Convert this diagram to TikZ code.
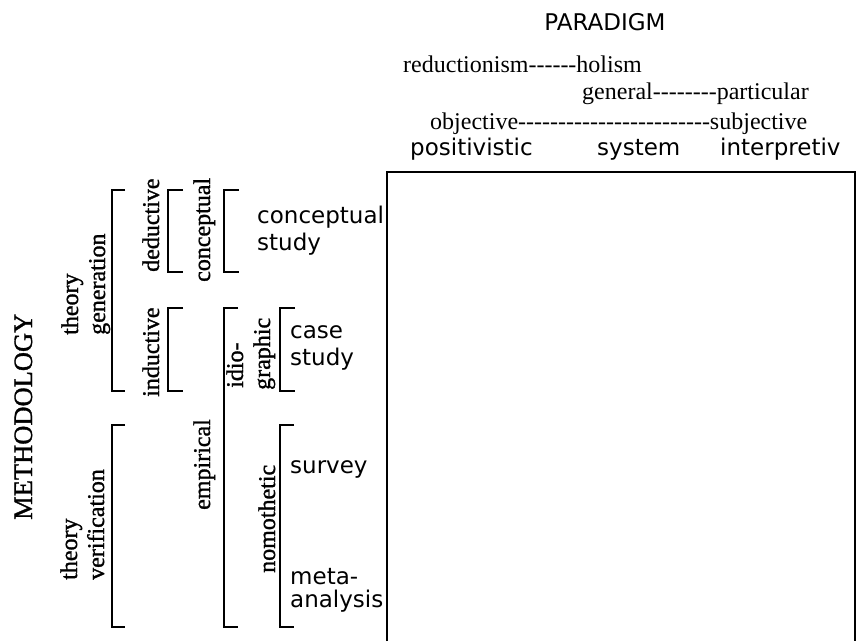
\documentclass[tikz,border=0pt]{standalone}
\usepackage{fontspec}
\setmainfont{Liberation Serif}
\newfontfamily\sansf{DejaVu Sans}
\newfontfamily\vserif{Liberation Serif}[FakeBold=1.2]
\def\hh{-\kern0pt}
\begin{document}
\begin{tikzpicture}[x=1pt,y=-1pt,
  serif/.style={inner sep=0pt, font=\fontsize{24}{28}\selectfont},
  sans/.style={inner sep=0pt, font=\sansf\fontsize{23}{27}\selectfont},
  htext/.style={anchor=base west},
  vtext/.style={inner sep=0pt, font=\vserif\fontsize{24}{28}\selectfont, rotate=90, anchor=base west},
  bracket/.style={line width=1.3pt},
  frame/.style={line width=2pt}]
\useasboundingbox (0,0) rectangle (862,641);

% header texts
\node[sans, anchor=base] (paradigm) at (605,30) {PARADIGM};
\node[serif, htext] (red) at (403,72) {reductionism\hh\hh\hh\hh\hh\hh holism};
\node[serif, htext] (gen) at (582,99) {general\hh\hh\hh\hh\hh\hh\hh\hh particular};
\node[serif, htext] (obj) at (430,129) {objective\hh\hh\hh\hh\hh\hh\hh\hh\hh\hh\hh\hh\hh\hh\hh\hh\hh\hh\hh\hh\hh\hh\hh\hh subjective};
\node[sans, htext] (pos) at (410,155) {positivistic};
\node[sans, htext] (sys) at (597,155) {system};
\node[sans, htext] (int) at (720,155) {interpretiv};

% paradigm frame (open at bottom)
\coordinate (fbl) at (387,641);
\coordinate (ftl) at (387,172);
\coordinate (ftr) at (855,172);
\coordinate (fbr) at (855,641);
\draw[frame] (fbl) -- (ftl) -- (ftr) -- (fbr);

% brackets
\foreach \bx/\bt/\bb/\bl in {112/190/391/13, 168/190/272/15, 224/190/272/15, 168/308/391/15,
                             224/308/627/14, 280/308/391/15, 280/425/627/14, 112/425/627/13}{
  \draw[bracket] (\bx+\bl,\bt) -- (\bx,\bt) -- (\bx,\bb) -- (\bx+\bl,\bb);
}

% vertical labels
\node[vtext, font=\vserif\fontsize{26.5}{30}\selectfont] (meth) at (32,520) {METHODOLOGY};
\node[vtext] (tg1) at (78,335) {theory};
\node[vtext] (tg2) at (105,335) {generation};
\node[vtext] (ded) at (159,272) {deductive};
\node[vtext] (con) at (210,282) {conceptual};
\node[vtext] (ind) at (159,397) {inductive};
\node[vtext] (idio1) at (243,388) {idio-};
\node[vtext] (idio2) at (270,390) {graphic};
\node[vtext] (emp) at (210,510) {empirical};
\node[vtext] (nomo) at (275,573) {nomothetic};
\node[vtext] (tv1) at (77,580) {theory};
\node[vtext] (tv2) at (104,580) {verification};

% method texts
\node[sans, htext] (cs1) at (257,223) {conceptual};
\node[sans, htext] (cs2) at (257,250) {study};
\node[sans, htext] (case1) at (290,338) {case};
\node[sans, htext] (case2) at (290,365) {study};
\node[sans, htext] (surv) at (290,473) {survey};
\node[sans, htext] (meta1) at (290,584) {meta-};
\node[sans, htext] (meta2) at (290,607) {analysis};
\end{tikzpicture}
\end{document}
